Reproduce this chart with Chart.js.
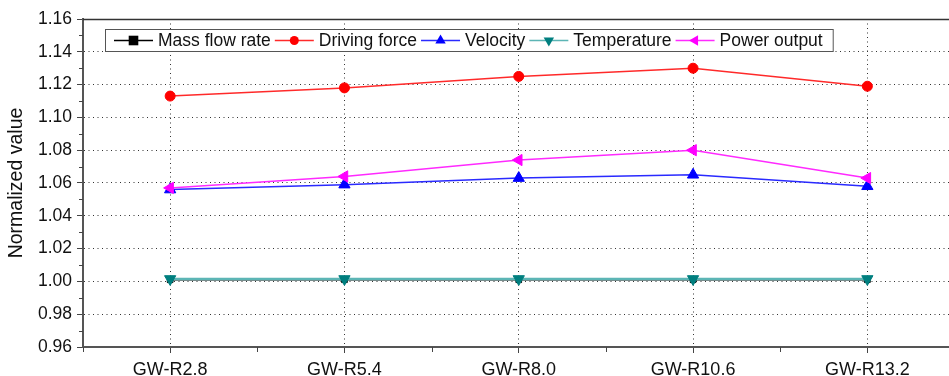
<!doctype html>
<html>
<head>
<title>Normalized value</title>
<script src="https://cdn.jsdelivr.net/npm/chart.js@4.4.1/dist/chart.umd.min.js"></script>
<style>
html, body { margin: 0; padding: 0; background: #fff; overflow: hidden; }
#container { width: 962px; height: 376px; }
</style>
</head>
<body>
	<div id="container">
		<canvas id="canvas"></canvas>
	</div>

	<script>
		var categories   = ['GW-R2.8', 'GW-R5.4', 'GW-R8.0', 'GW-R10.6', 'GW-R13.2'];
		var massFlow     = [1.001, 1.001, 1.001, 1.001, 1.001];
		var drivingForce = [1.113, 1.118, 1.125, 1.130, 1.119];
		var velocity     = [1.056, 1.059, 1.063, 1.065, 1.058];
		var temperature  = [1.0015, 1.0015, 1.0015, 1.0015, 1.0015];
		var powerOutput  = [1.057, 1.064, 1.074, 1.080, 1.063];

		var FONT = "'Liberation Sans', Arial, sans-serif";

		function makeSeries(label, data, color, markColor, style, rot, radius, width, order)
		{
			return {
				label: label,
				data: data,
				borderColor: color,
				backgroundColor: markColor,
				pointBorderColor: markColor,
				pointBackgroundColor: markColor,
				borderWidth: width,
				pointStyle: style,
				rotation: rot,
				pointRadius: radius,
				pointBorderWidth: 1,
				tension: 0,
				fill: false,
				order: order
			};
		}

		// draw one marker the way the chart does, used for the legend
		function drawMarker(ctx, style, rot, x, y, r, color)
		{
			ctx.save();
			ctx.fillStyle = color;
			ctx.translate(x, y);
			ctx.rotate(rot * Math.PI / 180);
			ctx.beginPath();
			if (style == 'circle') {
				ctx.arc(0, 0, r, 0, Math.PI * 2);
			} else if (style == 'rect') {
				ctx.rect(-r * 0.8, -r * 0.8, r * 1.6, r * 1.6);
			} else {
				for (var k = 0; k < 3; k++) {
					var a = k * Math.PI * 2 / 3;
					var px = Math.sin(a) * r, py = -Math.cos(a) * r;
					if (k == 0) ctx.moveTo(px, py); else ctx.lineTo(px, py);
				}
				ctx.closePath();
			}
			ctx.fill();
			ctx.restore();
		}

		var extras = {
			id: 'extras',
			afterDraw: function(chart) {
				var ctx = chart.ctx;
				var area = chart.chartArea;
				var xs = chart.scales.x, ys = chart.scales.y;
				ctx.save();

				// top frame
				ctx.strokeStyle = '#333';
				ctx.lineWidth = 1.5;
				ctx.beginPath();
				ctx.moveTo(area.left, area.top + 0.5);
				ctx.lineTo(area.right, area.top + 0.5);
				ctx.stroke();

				// minor ticks
				ctx.strokeStyle = '#444';
				ctx.lineWidth = 1;
				var t = ys.ticks;
				for (var i = 0; i < t.length - 1; i++) {
					var py = Math.round(ys.getPixelForValue((t[i].value + t[i + 1].value) / 2)) + 0.5;
					ctx.beginPath();
					ctx.moveTo(area.left - 4, py);
					ctx.lineTo(area.left, py);
					ctx.stroke();
				}
				for (var j = 0; j <= categories.length; j++) {
					var px = Math.round(xs.getPixelForValue(j - 0.5)) + 0.5;
					ctx.beginPath();
					ctx.moveTo(px, area.bottom);
					ctx.lineTo(px, area.bottom + 5);
					ctx.stroke();
				}

				// legend box
				var sets = chart.data.datasets;
				ctx.font = '17.5px ' + FONT;
				var left = area.left + 22, top = area.top + 10, h = 22;
				var x = left + 9;
				var items = [];
				for (var s = 0; s < sets.length; s++) {
					var w = ctx.measureText(sets[s].label).width;
					items.push({ds: sets[s], x: x});
					x += 39 + 5 + w + 4;
				}
				var right = x + 6;
				ctx.fillStyle = '#fff';
				ctx.fillRect(left, top, right - left, h);
				ctx.strokeStyle = '#555';
				ctx.lineWidth = 1;
				ctx.strokeRect(left + 0.5, top + 0.5, right - left, h);

				var cy = top + h / 2 + 0.5;
				ctx.textBaseline = 'middle';
				items.forEach(function(it) {
					var ds = it.ds;
					ctx.strokeStyle = ds.borderColor;
					ctx.lineWidth = 1.5;
					ctx.beginPath();
					ctx.moveTo(it.x, cy);
					ctx.lineTo(it.x + 39, cy);
					ctx.stroke();
					drawMarker(ctx, ds.pointStyle, ds.rotation, it.x + 19.5, cy, ds.pointStyle == 'circle' ? 4.5 : 6, ds.pointBackgroundColor);
					ctx.fillStyle = '#111';
					ctx.fillText(ds.label, it.x + 44, cy + 1);
				});

				ctx.restore();
			}
		};

		var chartData = {
			labels: categories,
			datasets: [
				makeSeries('Mass flow rate', massFlow, '#000000', '#000000', 'rect', 0, 4, 1.5, 5),
				makeSeries('Driving force', drivingForce, '#ff2a2a', '#ff0000', 'circle', 0, 5, 1.5, 4),
				makeSeries('Velocity', velocity, '#2a2aff', '#0000ff', 'triangle', 0, 6.5, 1.5, 3),
				makeSeries('Temperature', temperature, '#5cb5b5', '#007f7f', 'triangle', 180, 6.5, 2.5, 2),
				makeSeries('Power output', powerOutput, '#ff2aff', '#ff00ff', 'triangle', -90, 6.5, 1.5, 1)
			]
		};

		var ctx = document.getElementById('canvas').getContext('2d');
		window.myChart = new Chart(ctx, {
			type: 'line',
			data: chartData,
			plugins: [extras],
			options: {
				responsive: true,
				maintainAspectRatio: false,
				animation: false,
				layout: {
					padding: { top: 19, left: 0, right: 4, bottom: 0 }
				},
				plugins: {
					legend: { display: false },
					tooltip: { enabled: false }
				},
				scales: {
					x: {
						offset: true,
						grid: {
							offset: false,
							color: '#333',
							lineWidth: 1,
							tickColor: '#444',
							tickLength: 6,
							drawOnChartArea: true
						},
						border: { color: '#555', width: 2, dash: [1, 3.5] },
						ticks: {
							color: '#111',
							padding: 6,
							maxRotation: 0,
							font: { family: FONT, size: 18 }
						},
						afterFit: function(scale) { scale.height = 29; }
					},
					y: {
						min: 0.96,
						max: 1.16,
						grid: {
							color: '#333',
							lineWidth: 1,
							tickColor: '#444',
							tickLength: 6
						},
						border: { color: '#555', width: 2, dash: [1, 3.5] },
						ticks: {
							stepSize: 0.02,
							color: '#111',
							padding: 5,
							font: { family: FONT, size: 17.5 },
							callback: function(v) { return Number(v).toFixed(2); }
						},
						title: {
							display: true,
							text: 'Normalized value',
							color: '#111',
							padding: { top: 5, bottom: 0 },
							font: { family: FONT, size: 19.5 }
						},
						afterFit: function(scale) { scale.width = 83; }
					}
				}
			}
		});
	</script>
</body>
</html>
